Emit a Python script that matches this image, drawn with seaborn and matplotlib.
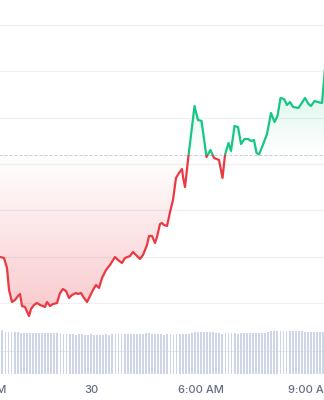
import numpy as np
import pandas as pd
import matplotlib
matplotlib.use("Agg")
import matplotlib.pyplot as plt
import seaborn as sns
from matplotlib.patches import Rectangle, PathPatch
from matplotlib.path import Path
from matplotlib.colors import to_rgb

# ---------------- data ----------------
hours = [0.518, 0.627, 0.709, 0.764, 0.845, 0.927, 1.009, 1.064, 1.118, 1.200,
         1.309, 1.364, 1.445, 1.527, 1.609, 1.691, 1.745, 1.800, 1.882, 1.964,
         2.073, 2.155, 2.236, 2.318, 2.400, 2.482, 2.591, 2.645, 2.727, 2.809,
         2.891, 2.973, 3.055, 3.136, 3.218, 3.300, 3.409, 3.518, 3.655, 3.736,
         3.845, 3.927, 4.064, 4.145, 4.255, 4.336, 4.418, 4.527, 4.582, 4.664,
         4.745, 4.800, 4.882, 4.936, 4.991, 5.073, 5.155, 5.236, 5.318, 5.400,
         5.482, 5.509, 5.564, 5.645, 5.823, 5.918, 6.014, 6.150, 6.259, 6.355,
         6.491, 6.586, 6.655, 6.750, 6.818, 6.914, 7.009, 7.091, 7.186, 7.282,
         7.364, 7.445, 7.514, 7.582, 7.677, 7.800, 7.909, 8.005, 8.086, 8.168,
         8.264, 8.345, 8.427, 8.509, 8.659, 8.836, 8.932, 9.000, 9.095, 9.232,
         9.300, 9.436]
prices = [1009.94, 1009.72, 1007.56, 1002.81, 1000.22, 1000.65, 1001.51, 1001.94, 999.35, 999.14,
          997.19, 998.70, 999.57, 1000.00, 999.57, 999.35, 999.14, 1000.22, 999.35, 999.78,
          1000.00, 1002.16, 1003.02, 1002.59, 1001.08, 1001.73, 1002.16, 1001.94, 1002.16, 1001.08,
          1000.22, 1001.51, 1002.81, 1003.89, 1003.24, 1005.40, 1007.13, 1008.21, 1009.94, 1009.29,
          1008.64, 1009.72, 1010.15, 1011.01, 1010.15, 1009.50, 1010.37, 1012.53, 1014.47, 1014.47,
          1012.96, 1014.25, 1017.06, 1017.28, 1016.85, 1016.63, 1019.65, 1022.25, 1027.00, 1028.08,
          1028.94, 1027.21, 1025.05, 1030.89, 1042.55, 1039.52, 1039.31, 1031.53, 1033.05, 1031.32,
          1030.89, 1027.00, 1032.00, 1034.56, 1032.83, 1038.23, 1038.01, 1034.34, 1035.42, 1035.42,
          1034.99, 1035.20, 1032.40, 1032.10, 1033.91, 1036.50, 1041.04, 1039.09, 1040.39, 1044.28,
          1044.06, 1042.76, 1043.41, 1042.33, 1042.12, 1044.28, 1042.98, 1042.55, 1043.63, 1043.30,
          1043.20, 1055.72]
baseline = 1031.9

volumes = [22.5, 22.4,
           21.3, 21.2, 21.2, 21.1, 21.0,
           20.7, 20.7, 20.6, 20.7, 20.7, 20.6, 20.6, 20.7, 20.6, 20.6, 20.5, 20.6, 20.5, 20.5, 20.4,
           20.1, 20.0, 20.0, 19.9, 20.0, 20.0, 19.9, 19.9, 20.0, 19.9, 19.8, 19.9, 19.9, 20.0, 19.9,
           20.2, 20.3, 20.3, 20.3, 20.2, 20.3, 20.3, 20.2, 20.3, 20.3, 20.4,
           20.7, 20.6,
           20.2, 20.1, 20.0, 20.0, 19.9, 20.0, 20.0, 19.9, 20.0, 20.1, 20.0, 20.0, 20.1,
           20.8, 21.0, 21.0, 21.1, 21.0, 21.0, 21.1, 21.0,
           20.6, 20.5, 20.4, 20.5, 20.5, 20.6, 20.5, 20.4, 20.5, 20.6, 20.5, 20.6, 20.6,
           20.8, 20.9, 20.8, 20.9, 21.0,
           21.6, 21.7, 21.7, 21.8, 21.7, 21.7, 21.8, 21.7, 21.6, 21.7, 21.6,
           21.4, 21.3, 21.4, 21.3, 21.3, 21.4, 21.3]
vol_start_hour = 0.5          # first 5-minute candle
vol_hours = vol_start_hour + np.arange(len(volumes)) / 12.0

tick_hours = [0, 3, 6, 9]
tick_labels = ["12:00 AM", "30", "6:00 AM", "9:00 AM"]
grid_levels = [1000, 1010, 1020, 1030, 1040, 1050, 1060, 1070]

# ---------------- style ----------------
GREEN = "#16c784"
RED = "#ea3943"
sns.set_style("white")
plt.rcParams["font.family"] = ["Inter", "DejaVu Sans"]

W, H = 324, 400
fig = plt.figure(figsize=(W / 100, H / 100), dpi=100)
fig.patch.set_facecolor("white")
L_PX, R_PX = -40, 364
xlim = (-0.5727, 10.445)

ax = fig.add_axes([L_PX / W, 80 / H, (R_PX - L_PX) / W, 320 / H])
axv = fig.add_axes([L_PX / W, (H - 374.3) / H, (R_PX - L_PX) / W, 48 / H])

x = np.asarray(hours)
y = np.asarray(prices)


def gradient_fill(ax, where, color, y_lo, y_hi, a_lo, a_hi):
    coll = ax.fill_between(x, y, baseline, where=where, interpolate=True,
                           facecolor="none", edgecolor="none")
    path = Path.make_compound_path(*coll.get_paths())
    patch = PathPatch(path, transform=ax.transData, facecolor="none",
                      edgecolor="none")
    ax.add_patch(patch)
    n = 256
    img = np.zeros((n, 1, 4))
    img[:, 0, :3] = to_rgb(color)
    img[:, 0, 3] = np.linspace(a_hi, a_lo, n)
    im = ax.imshow(img, extent=[x.min(), x.max(), y_lo, y_hi], origin="upper",
                   aspect="auto", zorder=1, interpolation="bilinear")
    im.set_clip_path(patch)


gradient_fill(ax, y >= baseline, GREEN, baseline, 1056.0, 0.0, 0.26)
gradient_fill(ax, y <= baseline, RED, 996.33, baseline, 0.28, 0.0)

df = pd.DataFrame({"hour": hours, "price": prices})
for col, lo in ((GREEN, True), (RED, False)):
    sns.lineplot(data=df, x="hour", y="price", ax=ax, color=col, lw=1.6,
                 zorder=3, legend=False)
    ln = ax.lines[-1]
    ln.set_solid_joinstyle("round")
    ln.set_solid_capstyle("round")
    if lo:
        rect = Rectangle((xlim[0], baseline), xlim[1] - xlim[0], 500,
                         transform=ax.transData)
    else:
        rect = Rectangle((xlim[0], baseline - 500), xlim[1] - xlim[0], 500,
                         transform=ax.transData)
    ln.set_clip_path(rect)

ax.axhline(baseline, color="#c6cad1", lw=0.72, ls=(0, (3, 2)), zorder=2)
ax.set_yticks(grid_levels)
ax.grid(True, axis="y", color="#eef0f3", lw=0.9)
ax.grid(False, axis="x")
ax.set_axisbelow(True)
ax.set_xlim(xlim)
ax.set_ylim(996.33, 1065.44)
ax.tick_params(left=False, labelleft=False, bottom=False, labelbottom=False)
ax.set_xlabel("")
ax.set_ylabel("")
for s in ax.spines.values():
    s.set_visible(False)

# ---------------- volume ----------------
vdf = pd.DataFrame({"hour": vol_hours, "volume": volumes})
sns.barplot(data=vdf, x="hour", y="volume", ax=axv, native_scale=True,
            color="#cdd6e8", width=0.6, errorbar=None, saturation=1,
            edgecolor="none", zorder=2)
axv.axhline(11.5, color="#e4e8ef", lw=0.7, zorder=1)
axv.set_xlim(xlim)
axv.set_ylim(0, 24)
axv.set_xticks(tick_hours)
axv.set_xticklabels(tick_labels)
axv.tick_params(axis="x", length=3, width=0.8, color="#8e96a5",
                labelcolor="#616e85", labelsize=8, pad=4.5)
axv.tick_params(left=False, labelleft=False)
for lab in axv.get_xticklabels():
    lab.set_fontweight("medium")
axv.set_xlabel("")
axv.set_ylabel("")
for s in axv.spines.values():
    s.set_visible(False)
axv.patch.set_alpha(0)

fig.savefig("out.png", dpi=100)
